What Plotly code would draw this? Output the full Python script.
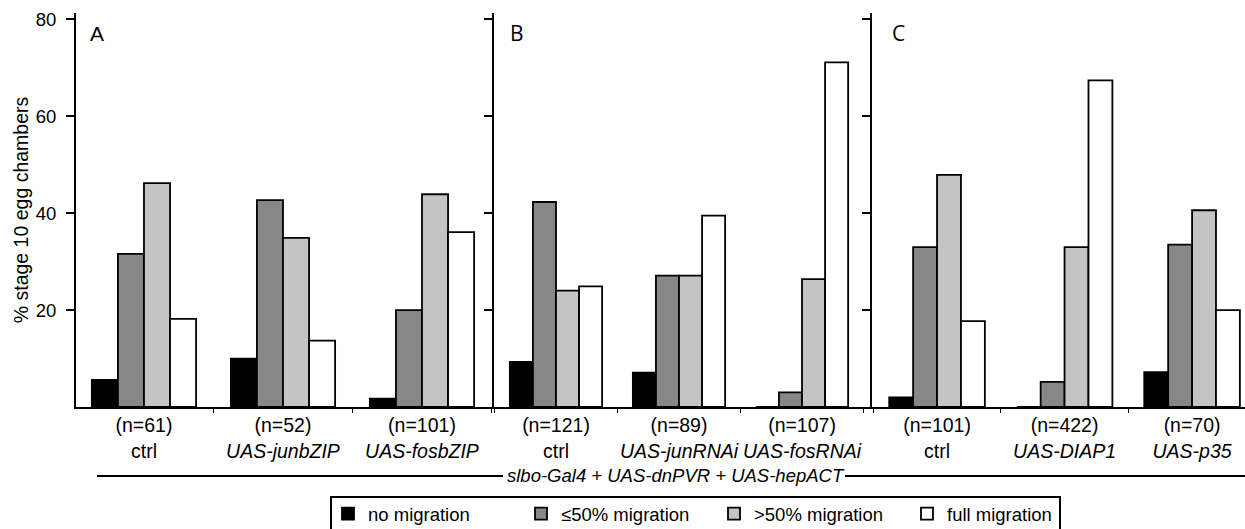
import plotly.graph_objects as go

# ---------------- data ----------------
series_names = ["no migration", "≤50% migration", ">50% migration", "full migration"]
series_colors = ["#000000", "#878787", "#c4c4c4", "#ffffff"]

panel_letters = ["A", "B", "C"]

panel_a_labels = ["(n=61)<br>ctrl", "(n=52)<br><i>UAS-junbZIP</i>", "(n=101)<br><i>UAS-fosbZIP</i>"]
panel_b_labels = ["(n=121)<br>ctrl", "(n=89)<br><i>UAS-junRNAi</i>", "(n=107)<br><i>UAS-fosRNAi</i>"]
panel_c_labels = ["(n=101)<br>ctrl", "(n=422)<br><i>UAS-DIAP1</i>", "(n=70)<br><i>UAS-p35</i>"]

# values per series (no, <=50, >50, full) for each group
panel_a_no = [5.6, 10.0, 1.7]
panel_a_le50 = [31.6, 42.7, 20.0]
panel_a_gt50 = [46.2, 34.9, 43.9]
panel_a_full = [18.2, 13.7, 36.1]

panel_b_no = [9.3, 7.1, 0.0]
panel_b_le50 = [42.3, 27.1, 3.0]
panel_b_gt50 = [24.0, 27.1, 26.4]
panel_b_full = [24.9, 39.5, 71.1]

panel_c_no = [2.0, 0.0, 7.2]
panel_c_le50 = [33.0, 5.2, 33.5]
panel_c_gt50 = [47.9, 33.0, 40.6]
panel_c_full = [17.7, 67.4, 20.0]

y_tick_vals = [20, 40, 60, 80]
y_title = "% stage 10 egg chambers"
genotype_text = "<i>slbo-Gal4 + UAS-dnPVR + UAS-hepACT</i>"

# ---------------- figure ----------------
FONT = "Liberation Sans, Arial, sans-serif"
panels = [
    (panel_a_labels, [panel_a_no, panel_a_le50, panel_a_gt50, panel_a_full], "x", "y"),
    (panel_b_labels, [panel_b_no, panel_b_le50, panel_b_gt50, panel_b_full], "x2", "y2"),
    (panel_c_labels, [panel_c_no, panel_c_le50, panel_c_gt50, panel_c_full], "x3", "y3"),
]

fig = go.Figure()
for pi, (labels, vals, xa, ya) in enumerate(panels):
    for si, name in enumerate(series_names):
        fig.add_trace(go.Bar(
            x=labels, y=vals[si], name=name,
            marker=dict(color=series_colors[si], line=dict(color="black", width=1.8)),
            xaxis=xa, yaxis=ya, legendgroup=name, showlegend=(pi == 0),
            hoverinfo="x+y+name",
        ))

# plot area in px: left 76, right 1245, top 13, bottom 407
W, H = 1245, 529
L, R, T, B = 76, 0, 13, 122
pw = W - L - R
ph = H - T - B

def px_x(px):
    return (px - L) / pw

def px_y(py):
    return (H - B - py) / ph

dom_a = [0, px_x(494)]
dom_b = [px_x(494), px_x(872)]
dom_c = [px_x(872), 1.0]

xcommon = dict(type="category", showline=True, linecolor="black", linewidth=2,
               ticks="outside", tickson="boundaries", ticklen=4, tickcolor="black",
               tickangle=0,
               tickfont=dict(family=FONT, size=19.5, color="black"), showgrid=False,
               zeroline=False, fixedrange=True, automargin=False)
ycommon = dict(range=[0, 81.3], showline=True, linecolor="black", linewidth=2,
               ticks="outside", ticklen=8, tickcolor="black", tickwidth=1.5,
               tickvals=y_tick_vals, showgrid=False, zeroline=False, automargin=False,
               fixedrange=True,
               tickfont=dict(family=FONT, size=18.5, color="black"))

fig.update_layout(
    width=W, height=H,
    margin=dict(l=L, r=R, t=T, b=B, pad=0, autoexpand=False),
    paper_bgcolor="white", plot_bgcolor="white",
    barmode="group", bargap=0.25, bargroupgap=0,
    font=dict(family=FONT, size=18, color="black"),
    xaxis=dict(domain=dom_a, range=[-0.489, 2.518], anchor="y", **xcommon),
    xaxis2=dict(domain=dom_b, range=[-0.504, 2.569], anchor="y2", **xcommon),
    xaxis3=dict(domain=dom_c, range=[-0.51, 2.415], anchor="y3", **xcommon),
    yaxis=dict(anchor="x", ticklabelstandoff=6,
               title=dict(text=y_title, font=dict(family=FONT, size=19.5), standoff=2),
               **ycommon),
    yaxis2=dict(anchor="x2", showticklabels=False, **ycommon),
    yaxis3=dict(anchor="x3", showticklabels=False, **ycommon),
    legend=dict(orientation="h", xref="container", yref="container",
                x=328 / W, y=1 - 514 / H, xanchor="left", yanchor="middle",
                borderwidth=0, bgcolor="rgba(0,0,0,0)",
                font=dict(family=FONT, size=18.5, color="black"),
                entrywidth=148, entrywidthmode="pixels", itemwidth=30,
                traceorder="normal"),
    showlegend=True,
)

# legend frame
fig.add_shape(type="rect", xref="paper", yref="paper",
              x0=px_x(331), x1=px_x(1060), y0=px_y(497), y1=px_y(540),
              line=dict(color="black", width=2), fillcolor="rgba(0,0,0,0)", layer="below")

# panel letters
for letter, xpx, fam in zip(panel_letters, [97, 517, 898],
                            [FONT, "Open Sans, sans-serif", "Open Sans, sans-serif"]):
    fig.add_annotation(text=letter, x=px_x(xpx), y=px_y(33), xref="paper", yref="paper",
                       showarrow=False, xanchor="center", yanchor="middle",
                       font=dict(family=fam, size=21, color="black"))

# genotype bracket line and label
yl = px_y(476)
fig.add_shape(type="line", xref="paper", yref="paper", x0=px_x(97), x1=px_x(503),
              y0=yl, y1=yl, line=dict(color="black", width=2))
fig.add_shape(type="line", xref="paper", yref="paper", x0=px_x(845), x1=1.0,
              y0=yl, y1=yl, line=dict(color="black", width=2))
fig.add_annotation(text=genotype_text, x=px_x(676), y=yl, xref="paper", yref="paper",
                   showarrow=False, xanchor="center", yanchor="middle",
                   font=dict(family=FONT, size=18.5, color="black"))

fig.write_html("out.html", config={"displayModeBar": False},
               post_script="document.body.style.margin='0';document.body.style.overflow='hidden';")
